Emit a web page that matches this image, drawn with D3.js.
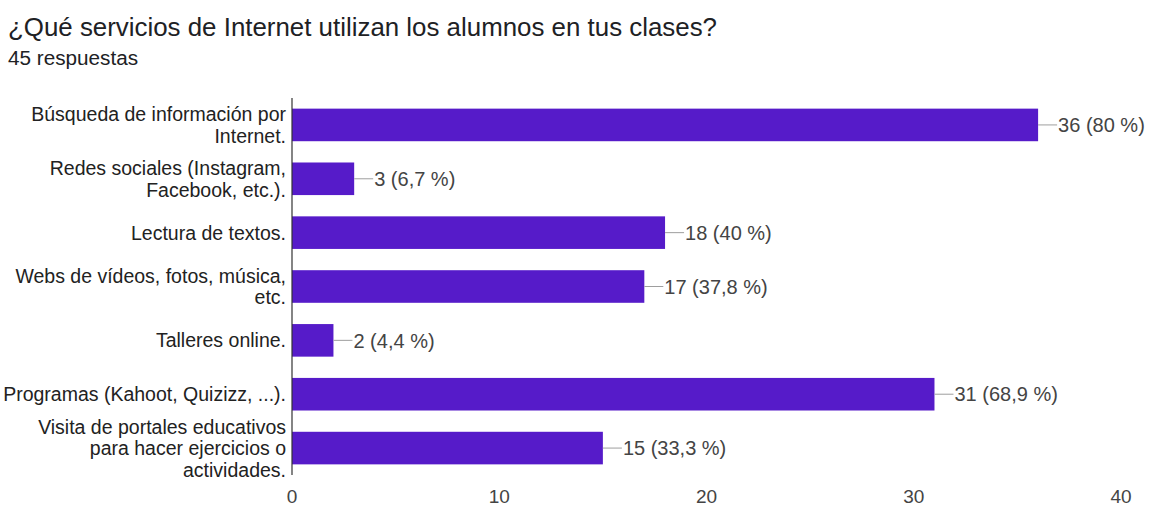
<!DOCTYPE html>
<html>
<head>
<meta charset="utf-8">
<script src="https://cdn.jsdelivr.net/npm/d3@7"></script>
<style>
  body { margin: 0; background: #fff; }
  svg { display: block; font-family: "Liberation Sans", Arial, sans-serif; }
</style>
</head>
<body>
<div id="chart"></div>
<script>
// data
const categories = [
    ['Búsqueda de información por', 'Internet.'],
    ['Redes sociales (Instagram,', 'Facebook, etc.).'],
    ['Lectura de textos.'],
    ['Webs de vídeos, fotos, música,', 'etc.'],
    ['Talleres online.'],
    ['Programas (Kahoot, Quizizz, ...).'],
    ['Visita de portales educativos', 'para hacer ejercicios o', 'actividades.']
];
const counts = [36, 3, 18, 17, 2, 31, 15];
const pctLabels = ['80 %', '6,7 %', '40 %', '37,8 %', '4,4 %', '68,9 %', '33,3 %'];
const xTicks = [0, 10, 20, 30, 40];

const W = 1151, H = 507;
const margin = { top: 98, right: 30, bottom: 32, left: 292 };

const svg = d3.select('#chart').append('svg')
    .attr('width', W)
    .attr('height', H);

// title + subtitle
svg.append('text')
    .attr('x', 8).attr('y', 36)
    .style('font-size', '25px')
    .attr('fill', '#202124')
    .attr('textLength', 709)
    .attr('lengthAdjust', 'spacingAndGlyphs')
    .text('¿Qué servicios de Internet utilizan los alumnos en tus clases?');

svg.append('text')
    .attr('x', 8).attr('y', 65)
    .style('font-size', '20px')
    .attr('fill', '#202124')
    .attr('textLength', 130)
    .attr('lengthAdjust', 'spacingAndGlyphs')
    .text('45 respuestas');

const x = d3.scaleLinear()
    .domain([0, 40])
    .range([margin.left, 1121]);

const y = d3.scaleBand()
    .domain(d3.range(categories.length))
    .range([margin.top, H - margin.bottom])
    .paddingInner(0.395)
    .paddingOuter(0.1975);

// bars
svg.selectAll('.bar')
    .data(counts)
    .enter()
    .append('rect')
    .attr('class', 'bar')
    .attr('x', x(0))
    .attr('y', (d, i) => y(i))
    .attr('width', d => x(d) - x(0))
    .attr('height', y.bandwidth())
    .attr('fill', '#561bc9');

// leader lines + value labels
counts.forEach((d, i) => {
    const cy = y(i) + y.bandwidth() / 2;
    svg.append('line')
        .attr('x1', x(d)).attr('x2', x(d) + 19)
        .attr('y1', cy).attr('y2', cy)
        .attr('stroke', '#9e9e9e')
        .attr('stroke-width', 1);
    svg.append('text')
        .attr('x', x(d) + 20)
        .attr('y', cy)
        .attr('dy', '0.36em')
        .style('font-size', '20px')
        .attr('fill', '#444')
        .text(`${d} (${pctLabels[i]})`);
});

// category labels, wrapped lines centred on the bar
categories.forEach((lines, i) => {
    const cy = y(i) + y.bandwidth() / 2;
    const lh = 21.5;
    const t = svg.append('text')
        .attr('text-anchor', 'end')
        .style('font-size', '19.5px')
        .attr('fill', '#222');
    lines.forEach((ln, j) => {
        t.append('tspan')
            .attr('x', 286)
            .attr('y', cy + (j - (lines.length - 1) / 2) * lh)
            .attr('dy', '0.36em')
            .text(ln);
    });
});

// vertical baseline axis
svg.append('line')
    .attr('x1', x(0)).attr('x2', x(0))
    .attr('y1', margin.top).attr('y2', H - margin.bottom)
    .attr('stroke', '#333')
    .attr('stroke-width', 1.2);

// x tick labels
svg.selectAll('.xtick')
    .data(xTicks)
    .enter()
    .append('text')
    .attr('class', 'xtick')
    .attr('x', d => x(d))
    .attr('y', 503)
    .attr('text-anchor', 'middle')
    .style('font-size', '19px')
    .attr('fill', '#444')
    .text(d => d);
</script>
</body>
</html>
